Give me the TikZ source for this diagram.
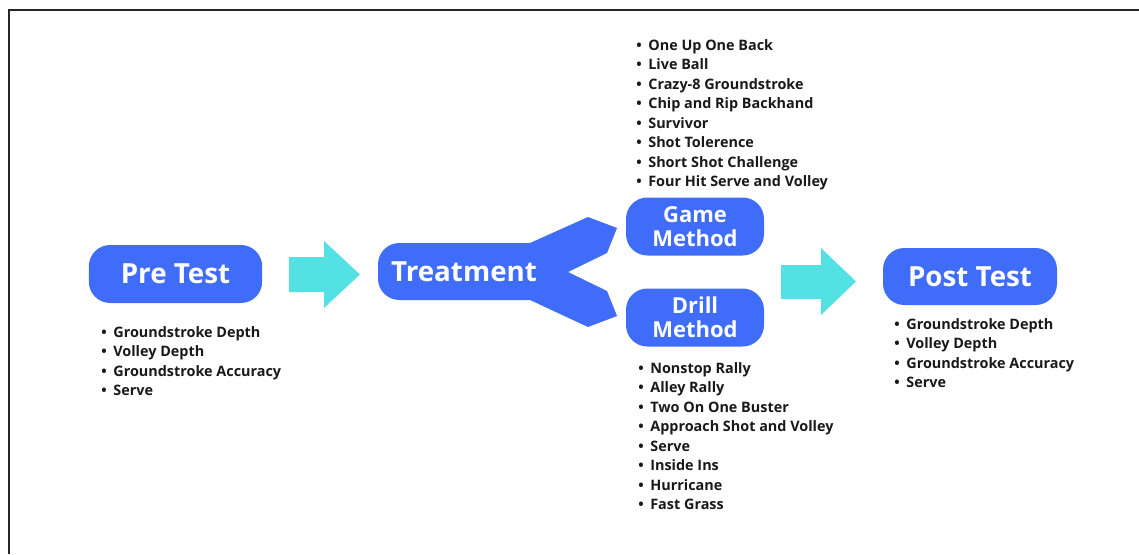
\documentclass[tikz,border=0pt]{standalone}
\usepackage{fontspec}
\setmainfont{Open Sans}
\usepackage{tikz}

\definecolor{boxblue}{RGB}{63,108,248}
\definecolor{arrcyan}{RGB}{84,225,227}
\definecolor{listink}{RGB}{25,25,25}

\tikzset{
  box/.style={fill=boxblue, text=white, rounded corners=16pt, inner sep=0pt,
    font=\bfseries\fontsize{20.8}{24}\selectfont},
  twobox/.style={box, align=center, font=\bfseries\fontsize{16.5}{18}\selectfont},
  itemlist/.style={anchor=north west, align=left, inner sep=0pt, text=listink,
    font=\bfseries\fontsize{10.8}{14.6}\selectfont},
  blockarr/.style={fill=arrcyan}
}
\newcommand{\itm}{\textbullet\hspace{5pt}}

\begin{document}
\begin{tikzpicture}[x=0.75pt,y=-0.75pt]
		\useasboundingbox (0,0) rectangle (1139,554);
		\draw[line width=1.1pt, black!85] (9,554) -- (9,10) -- (1139,10);
		%
		% fork of the treatment box
		\fill[boxblue] (530,243) -- (588,217) -- (617,228) -- (607,253) -- (568,272)
		  -- (607,291) -- (617,316) -- (588,327) -- (530,300) -- cycle;
		%
		\node[box, minimum width=130pt, minimum height=43.5pt] (Pre) at (175.5,274) {Pre Test};
		\node[box, minimum width=129pt, minimum height=42.75pt] (Tr) at (464,271.5) {Treatment};
		\node[twobox, minimum width=103.5pt, minimum height=43.5pt] (Gm) at (695,226.5) {Game\\Method};
		\node[twobox, minimum width=103.5pt, minimum height=43.5pt] (Dr) at (695,317.5) {Drill\\Method};
		\node[box, minimum width=130.5pt, minimum height=42.75pt] (Post) at (970,276.5) {Post Test};
		%
		\fill[blockarr] (289,257) -- (324,257) -- (324,241) -- (360,274.5)
		  -- (324,308) -- (324,292) -- (289,292) -- cycle;
		\fill[blockarr] (781,265) -- (821,265) -- (821,248) -- (856,281.5)
		  -- (821,315) -- (821,299) -- (781,299) -- cycle;
		%
		\node[itemlist] (PreL) at (101,326) {\itm Groundstroke Depth\\ \itm Volley Depth\\
		  \itm Groundstroke Accuracy\\ \itm Serve};
		\node[itemlist] (GmL) at (636,39) {\itm One Up One Back\\ \itm Live Ball\\
		  \itm Crazy-8 Groundstroke\\ \itm Chip and Rip Backhand\\ \itm Survivor\\
		  \itm Shot Tolerence\\ \itm Short Shot Challenge\\ \itm Four Hit Serve and Volley};
		\node[itemlist] (DrL) at (638,362) {\itm Nonstop Rally\\ \itm Alley Rally\\
		  \itm Two On One Buster\\ \itm Approach Shot and Volley\\ \itm Serve\\
		  \itm Inside Ins\\ \itm Hurricane\\ \itm Fast Grass};
		\node[itemlist] (PostL) at (894,318) {\itm Groundstroke Depth\\ \itm Volley Depth\\
		  \itm Groundstroke Accuracy\\ \itm Serve};
\end{tikzpicture}
\end{document}
